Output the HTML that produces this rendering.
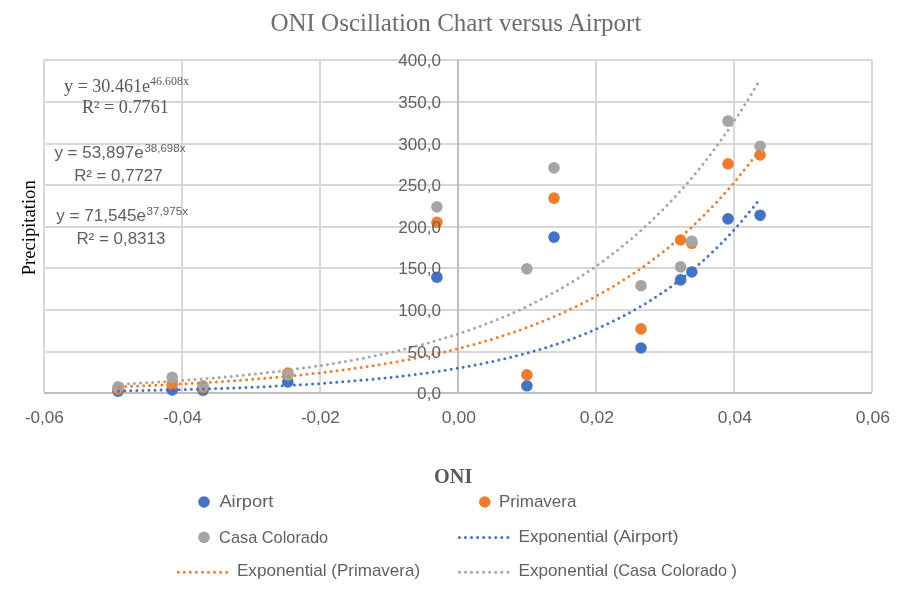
<!DOCTYPE html>
<html lang="en">
<head>
<meta charset="utf-8">
<title>ONI Oscillation Chart versus Airport</title>
<style>
html,body{margin:0;padding:0;background:#fff;}
body{width:901px;height:595px;overflow:hidden;}
svg{display:block;}
.serif{font-family:"Liberation Serif",serif;}
.sans{font-family:"Liberation Sans",sans-serif;}
.sans,.sans text{fill:#606060;}
text{fill:#595959;}
</style>
</head>
<body>
<svg width="901" height="595" viewBox="0 0 901 595">
<rect x="0" y="0" width="901" height="595" fill="#ffffff"/>
<g stroke="#d8d8d8" stroke-width="2" fill="none">
<line x1="44" y1="60" x2="872" y2="60"/>
<line x1="44" y1="102" x2="872" y2="102"/>
<line x1="44" y1="144" x2="872" y2="144"/>
<line x1="44" y1="185" x2="872" y2="185"/>
<line x1="44" y1="227" x2="872" y2="227"/>
<line x1="44" y1="268" x2="872" y2="268"/>
<line x1="44" y1="310" x2="872" y2="310"/>
<line x1="44" y1="352" x2="872" y2="352"/>
<line x1="44" y1="60" x2="44" y2="392.5"/>
<line x1="182" y1="60" x2="182" y2="392.5"/>
<line x1="320" y1="60" x2="320" y2="392.5"/>
<line x1="596" y1="60" x2="596" y2="392.5"/>
<line x1="734" y1="60" x2="734" y2="392.5"/>
<line x1="872" y1="60" x2="872" y2="392.5"/>
</g>
<g stroke="#bebebe" stroke-width="2" fill="none">
<line x1="44" y1="393" x2="872" y2="393"/>
<line x1="458" y1="60.0" x2="458" y2="393.0"/>
</g>
<g fill="#4472c4">
<circle cx="118.0" cy="391.2" r="5.8"/>
<circle cx="172.2" cy="389.9" r="5.8"/>
<circle cx="203.0" cy="390.2" r="5.8"/>
<circle cx="287.8" cy="382.0" r="5.8"/>
<circle cx="436.9" cy="277.2" r="5.8"/>
<circle cx="526.9" cy="385.8" r="5.8"/>
<circle cx="554.0" cy="237.1" r="5.8"/>
<circle cx="641.0" cy="348.0" r="5.8"/>
<circle cx="680.6" cy="279.9" r="5.8"/>
<circle cx="691.8" cy="272.0" r="5.8"/>
<circle cx="728.0" cy="218.9" r="5.8"/>
<circle cx="760.1" cy="215.2" r="5.8"/>
</g>
<g fill="#ed7d31">
<circle cx="118.0" cy="389.2" r="5.8"/>
<circle cx="172.2" cy="384.4" r="5.8"/>
<circle cx="203.0" cy="387.6" r="5.8"/>
<circle cx="287.8" cy="373.0" r="5.8"/>
<circle cx="436.9" cy="222.3" r="5.8"/>
<circle cx="526.9" cy="374.9" r="5.8"/>
<circle cx="554.0" cy="198.1" r="5.8"/>
<circle cx="641.0" cy="328.9" r="5.8"/>
<circle cx="680.6" cy="240.0" r="5.8"/>
<circle cx="691.8" cy="243.3" r="5.8"/>
<circle cx="728.0" cy="163.8" r="5.8"/>
<circle cx="760.1" cy="155.0" r="5.8"/>
</g>
<g fill="#a5a5a5">
<circle cx="118.0" cy="386.9" r="5.8"/>
<circle cx="172.2" cy="377.3" r="5.8"/>
<circle cx="203.0" cy="385.8" r="5.8"/>
<circle cx="287.8" cy="374.9" r="5.8"/>
<circle cx="436.9" cy="206.9" r="5.8"/>
<circle cx="526.9" cy="268.9" r="5.8"/>
<circle cx="554.0" cy="167.9" r="5.8"/>
<circle cx="641.0" cy="285.7" r="5.8"/>
<circle cx="680.6" cy="266.9" r="5.8"/>
<circle cx="691.8" cy="241.2" r="5.8"/>
<circle cx="728.0" cy="121.1" r="5.8"/>
<circle cx="760.1" cy="146.2" r="5.8"/>
</g>
<path d="M757.0 201.9L755.4 203.9L753.8 206.0L752.2 208.0L750.6 210.0L749.0 211.9L747.4 213.9L745.8 215.8L744.2 217.7L742.6 219.6L741.0 221.4L739.4 223.3L737.8 225.1L736.2 226.9L734.6 228.7L733.0 230.5L731.4 232.2L729.8 233.9L728.2 235.6L726.6 237.3L725.0 239.0L723.5 240.6L721.9 242.3L720.3 243.9L718.7 245.5L717.1 247.1L715.5 248.6L713.9 250.2L712.3 251.7L710.7 253.2L709.1 254.7L707.5 256.2L705.9 257.7L704.3 259.2L702.7 260.6L701.1 262.0L699.5 263.4L697.9 264.8L696.3 266.2L694.7 267.5L693.1 268.9L691.5 270.2L689.9 271.5L688.3 272.8L686.7 274.1L685.1 275.4L683.5 276.7L681.9 277.9L680.3 279.2L678.7 280.4L677.1 281.6L675.5 282.8L673.9 284.0L672.3 285.1L670.7 286.3L669.1 287.4L667.5 288.6L665.9 289.7L664.3 290.8L662.7 291.9L661.1 293.0L659.6 294.1L658.0 295.1L656.4 296.2L654.8 297.2L653.2 298.2L651.6 299.3L650.0 300.3L648.4 301.3L646.8 302.2L645.2 303.2L643.6 304.2L642.0 305.1L640.4 306.1L638.8 307.0L637.2 307.9L635.6 308.8L634.0 309.7L632.4 310.6L630.8 311.5L629.2 312.4L627.6 313.3L626.0 314.1L624.4 315.0L622.8 315.8L621.2 316.6L619.6 317.4L618.0 318.3L616.4 319.1L614.8 319.9L613.2 320.6L611.6 321.4L610.0 322.2L608.4 322.9L606.8 323.7L605.2 324.4L603.6 325.2L602.0 325.9L600.4 326.6L598.8 327.3L597.2 328.0L595.7 328.7L594.1 329.4L592.5 330.1L590.9 330.8L589.3 331.5L587.7 332.1L586.1 332.8L584.5 333.4L582.9 334.1L581.3 334.7L579.7 335.3L578.1 335.9L576.5 336.5L574.9 337.2L573.3 337.8L571.7 338.3L570.1 338.9L568.5 339.5L566.9 340.1L565.3 340.7L563.7 341.2L562.1 341.8L560.5 342.3L558.9 342.9L557.3 343.4L555.7 343.9L554.1 344.5L552.5 345.0L550.9 345.5L549.3 346.0L547.7 346.5L546.1 347.0L544.5 347.5L542.9 348.0L541.3 348.5L539.7 349.0L538.1 349.4L536.5 349.9L534.9 350.4L533.4 350.8L531.8 351.3L530.2 351.7L528.6 352.2L527.0 352.6L525.4 353.0L523.8 353.5L522.2 353.9L520.6 354.3L519.0 354.7L517.4 355.1L515.8 355.5L514.2 355.9L512.6 356.3L511.0 356.7L509.4 357.1L507.8 357.5L506.2 357.9L504.6 358.3L503.0 358.6L501.4 359.0L499.8 359.4L498.2 359.7L496.6 360.1L495.0 360.4L493.4 360.8L491.8 361.1L490.2 361.5L488.6 361.8L487.0 362.1L485.4 362.5L483.8 362.8L482.2 363.1L480.6 363.5L479.0 363.8L477.4 364.1L475.8 364.4L474.2 364.7L472.6 365.0L471.0 365.3L469.4 365.6L467.9 365.9L466.3 366.2L464.7 366.5L463.1 366.8L461.5 367.0L459.9 367.3L458.3 367.6L456.7 367.9L455.1 368.1L453.5 368.4L451.9 368.7L450.3 368.9L448.7 369.2L447.1 369.4L445.5 369.7L443.9 369.9L442.3 370.2L440.7 370.4L439.1 370.7L437.5 370.9L435.9 371.2L434.3 371.4L432.7 371.6L431.1 371.9L429.5 372.1L427.9 372.3L426.3 372.5L424.7 372.7L423.1 373.0L421.5 373.2L419.9 373.4L418.3 373.6L416.7 373.8L415.1 374.0L413.5 374.2L411.9 374.4L410.3 374.6L408.7 374.8L407.1 375.0L405.6 375.2L404.0 375.4L402.4 375.6L400.8 375.8L399.2 376.0L397.6 376.1L396.0 376.3L394.4 376.5L392.8 376.7L391.2 376.9L389.6 377.0L388.0 377.2L386.4 377.4L384.8 377.5L383.2 377.7L381.6 377.9L380.0 378.0L378.4 378.2L376.8 378.3L375.2 378.5L373.6 378.7L372.0 378.8L370.4 379.0L368.8 379.1L367.2 379.3L365.6 379.4L364.0 379.6L362.4 379.7L360.8 379.8L359.2 380.0L357.6 380.1L356.0 380.3L354.4 380.4L352.8 380.5L351.2 380.7L349.6 380.8L348.0 380.9L346.4 381.1L344.8 381.2L343.2 381.3L341.6 381.4L340.1 381.6L338.5 381.7L336.9 381.8L335.3 381.9L333.7 382.1L332.1 382.2L330.5 382.3L328.9 382.4L327.3 382.5L325.7 382.6L324.1 382.7L322.5 382.8L320.9 383.0L319.3 383.1L317.7 383.2L316.1 383.3L314.5 383.4L312.9 383.5L311.3 383.6L309.7 383.7L308.1 383.8L306.5 383.9L304.9 384.0L303.3 384.1L301.7 384.2L300.1 384.3L298.5 384.4L296.9 384.5L295.3 384.5L293.7 384.6L292.1 384.7L290.5 384.8L288.9 384.9L287.3 385.0L285.7 385.1L284.1 385.2L282.5 385.2L280.9 385.3L279.3 385.4L277.8 385.5L276.2 385.6L274.6 385.7L273.0 385.7L271.4 385.8L269.8 385.9L268.2 386.0L266.6 386.0L265.0 386.1L263.4 386.2L261.8 386.3L260.2 386.3L258.6 386.4L257.0 386.5L255.4 386.5L253.8 386.6L252.2 386.7L250.6 386.8L249.0 386.8L247.4 386.9L245.8 387.0L244.2 387.0L242.6 387.1L241.0 387.1L239.4 387.2L237.8 387.3L236.2 387.3L234.6 387.4L233.0 387.5L231.4 387.5L229.8 387.6L228.2 387.6L226.6 387.7L225.0 387.7L223.4 387.8L221.8 387.9L220.2 387.9L218.6 388.0L217.0 388.0L215.4 388.1L213.9 388.1L212.3 388.2L210.7 388.2L209.1 388.3L207.5 388.3L205.9 388.4L204.3 388.4L202.7 388.5L201.1 388.5L199.5 388.6L197.9 388.6L196.3 388.7L194.7 388.7L193.1 388.8L191.5 388.8L189.9 388.9L188.3 388.9L186.7 388.9L185.1 389.0L183.5 389.0L181.9 389.1L180.3 389.1L178.7 389.2L177.1 389.2L175.5 389.2L173.9 389.3L172.3 389.3L170.7 389.4L169.1 389.4L167.5 389.4L165.9 389.5L164.3 389.5L162.7 389.5L161.1 389.6L159.5 389.6L157.9 389.7L156.3 389.7L154.7 389.7L153.1 389.8L151.5 389.8L150.0 389.8L148.4 389.9L146.8 389.9L145.2 389.9L143.6 390.0L142.0 390.0L140.4 390.0L138.8 390.1L137.2 390.1L135.6 390.1L134.0 390.2L132.4 390.2L130.8 390.2L129.2 390.2L127.6 390.3L126.0 390.3L124.4 390.3L122.8 390.4L121.2 390.4L119.6 390.4L118.0 390.4" fill="none" stroke="#4472c4" stroke-width="3" stroke-linecap="round" stroke-dasharray="0 6.066" transform="translate(0 0.5)"/>
<path d="M759.0 150.3L757.4 152.5L755.8 154.6L754.2 156.7L752.6 158.9L751.0 161.0L749.4 163.0L747.8 165.1L746.2 167.1L744.6 169.1L743.0 171.1L741.4 173.1L739.8 175.1L738.2 177.1L736.6 179.0L735.0 180.9L733.4 182.8L731.8 184.7L730.2 186.5L728.6 188.4L727.0 190.2L725.3 192.0L723.7 193.8L722.1 195.6L720.5 197.4L718.9 199.1L717.3 200.9L715.7 202.6L714.1 204.3L712.5 206.0L710.9 207.6L709.3 209.3L707.7 210.9L706.1 212.6L704.5 214.2L702.9 215.8L701.3 217.4L699.7 218.9L698.1 220.5L696.5 222.0L694.9 223.6L693.3 225.1L691.7 226.6L690.1 228.1L688.5 229.6L686.9 231.0L685.3 232.5L683.7 233.9L682.1 235.3L680.5 236.7L678.9 238.1L677.3 239.5L675.7 240.9L674.1 242.3L672.5 243.6L670.9 244.9L669.3 246.3L667.7 247.6L666.1 248.9L664.5 250.2L662.9 251.5L661.2 252.7L659.6 254.0L658.0 255.2L656.4 256.5L654.8 257.7L653.2 258.9L651.6 260.1L650.0 261.3L648.4 262.5L646.8 263.6L645.2 264.8L643.6 265.9L642.0 267.1L640.4 268.2L638.8 269.3L637.2 270.4L635.6 271.5L634.0 272.6L632.4 273.7L630.8 274.7L629.2 275.8L627.6 276.8L626.0 277.9L624.4 278.9L622.8 279.9L621.2 280.9L619.6 282.0L618.0 282.9L616.4 283.9L614.8 284.9L613.2 285.9L611.6 286.8L610.0 287.8L608.4 288.7L606.8 289.7L605.2 290.6L603.6 291.5L602.0 292.4L600.4 293.3L598.8 294.2L597.1 295.1L595.5 296.0L593.9 296.8L592.3 297.7L590.7 298.5L589.1 299.4L587.5 300.2L585.9 301.1L584.3 301.9L582.7 302.7L581.1 303.5L579.5 304.3L577.9 305.1L576.3 305.9L574.7 306.7L573.1 307.4L571.5 308.2L569.9 309.0L568.3 309.7L566.7 310.5L565.1 311.2L563.5 311.9L561.9 312.6L560.3 313.4L558.7 314.1L557.1 314.8L555.5 315.5L553.9 316.2L552.3 316.9L550.7 317.5L549.1 318.2L547.5 318.9L545.9 319.6L544.3 320.2L542.7 320.9L541.1 321.5L539.5 322.1L537.9 322.8L536.3 323.4L534.6 324.0L533.0 324.6L531.4 325.3L529.8 325.9L528.2 326.5L526.6 327.1L525.0 327.7L523.4 328.2L521.8 328.8L520.2 329.4L518.6 330.0L517.0 330.5L515.4 331.1L513.8 331.6L512.2 332.2L510.6 332.7L509.0 333.3L507.4 333.8L505.8 334.3L504.2 334.9L502.6 335.4L501.0 335.9L499.4 336.4L497.8 336.9L496.2 337.4L494.6 337.9L493.0 338.4L491.4 338.9L489.8 339.4L488.2 339.9L486.6 340.3L485.0 340.8L483.4 341.3L481.8 341.7L480.2 342.2L478.6 342.6L477.0 343.1L475.4 343.5L473.8 344.0L472.2 344.4L470.6 344.9L468.9 345.3L467.3 345.7L465.7 346.1L464.1 346.6L462.5 347.0L460.9 347.4L459.3 347.8L457.7 348.2L456.1 348.6L454.5 349.0L452.9 349.4L451.3 349.8L449.7 350.2L448.1 350.6L446.5 350.9L444.9 351.3L443.3 351.7L441.7 352.0L440.1 352.4L438.5 352.8L436.9 353.1L435.3 353.5L433.7 353.8L432.1 354.2L430.5 354.5L428.9 354.9L427.3 355.2L425.7 355.6L424.1 355.9L422.5 356.2L420.9 356.6L419.3 356.9L417.7 357.2L416.1 357.5L414.5 357.9L412.9 358.2L411.3 358.5L409.7 358.8L408.1 359.1L406.4 359.4L404.8 359.7L403.2 360.0L401.6 360.3L400.0 360.6L398.4 360.9L396.8 361.2L395.2 361.4L393.6 361.7L392.0 362.0L390.4 362.3L388.8 362.6L387.2 362.8L385.6 363.1L384.0 363.4L382.4 363.6L380.8 363.9L379.2 364.2L377.6 364.4L376.0 364.7L374.4 364.9L372.8 365.2L371.2 365.4L369.6 365.7L368.0 365.9L366.4 366.2L364.8 366.4L363.2 366.6L361.6 366.9L360.0 367.1L358.4 367.3L356.8 367.6L355.2 367.8L353.6 368.0L352.0 368.2L350.4 368.5L348.8 368.7L347.2 368.9L345.6 369.1L344.0 369.3L342.4 369.5L340.7 369.8L339.1 370.0L337.5 370.2L335.9 370.4L334.3 370.6L332.7 370.8L331.1 371.0L329.5 371.2L327.9 371.4L326.3 371.6L324.7 371.8L323.1 371.9L321.5 372.1L319.9 372.3L318.3 372.5L316.7 372.7L315.1 372.9L313.5 373.0L311.9 373.2L310.3 373.4L308.7 373.6L307.1 373.8L305.5 373.9L303.9 374.1L302.3 374.3L300.7 374.4L299.1 374.6L297.5 374.8L295.9 374.9L294.3 375.1L292.7 375.2L291.1 375.4L289.5 375.6L287.9 375.7L286.3 375.9L284.7 376.0L283.1 376.2L281.5 376.3L279.9 376.5L278.2 376.6L276.6 376.8L275.0 376.9L273.4 377.1L271.8 377.2L270.2 377.3L268.6 377.5L267.0 377.6L265.4 377.8L263.8 377.9L262.2 378.0L260.6 378.2L259.0 378.3L257.4 378.4L255.8 378.6L254.2 378.7L252.6 378.8L251.0 378.9L249.4 379.1L247.8 379.2L246.2 379.3L244.6 379.4L243.0 379.6L241.4 379.7L239.8 379.8L238.2 379.9L236.6 380.0L235.0 380.2L233.4 380.3L231.8 380.4L230.2 380.5L228.6 380.6L227.0 380.7L225.4 380.8L223.8 380.9L222.2 381.0L220.6 381.2L219.0 381.3L217.4 381.4L215.8 381.5L214.1 381.6L212.5 381.7L210.9 381.8L209.3 381.9L207.7 382.0L206.1 382.1L204.5 382.2L202.9 382.3L201.3 382.4L199.7 382.5L198.1 382.6L196.5 382.6L194.9 382.7L193.3 382.8L191.7 382.9L190.1 383.0L188.5 383.1L186.9 383.2L185.3 383.3L183.7 383.4L182.1 383.5L180.5 383.5L178.9 383.6L177.3 383.7L175.7 383.8L174.1 383.9L172.5 384.0L170.9 384.0L169.3 384.1L167.7 384.2L166.1 384.3L164.5 384.4L162.9 384.4L161.3 384.5L159.7 384.6L158.1 384.7L156.5 384.7L154.9 384.8L153.3 384.9L151.7 385.0L150.0 385.0L148.4 385.1L146.8 385.2L145.2 385.2L143.6 385.3L142.0 385.4L140.4 385.4L138.8 385.5L137.2 385.6L135.6 385.6L134.0 385.7L132.4 385.8L130.8 385.8L129.2 385.9L127.6 386.0L126.0 386.0L124.4 386.1L122.8 386.2L121.2 386.2L119.6 386.3L118.0 386.3" fill="none" stroke="#ed7d31" stroke-width="3" stroke-linecap="round" stroke-dasharray="0 6.066" transform="translate(0 0.5)"/>
<path d="M757.4 83.6L755.8 86.3L754.2 88.9L752.6 91.6L751.0 94.3L749.4 96.9L747.8 99.5L746.2 102.0L744.6 104.6L743.0 107.1L741.4 109.6L739.8 112.1L738.2 114.6L736.6 117.0L735.0 119.4L733.4 121.8L731.8 124.2L730.2 126.5L728.6 128.9L727.0 131.2L725.4 133.5L723.8 135.8L722.2 138.0L720.6 140.2L719.0 142.5L717.4 144.6L715.8 146.8L714.2 149.0L712.6 151.1L711.0 153.2L709.4 155.3L707.8 157.4L706.2 159.5L704.6 161.5L703.1 163.6L701.5 165.6L699.9 167.6L698.3 169.5L696.7 171.5L695.1 173.4L693.5 175.4L691.9 177.3L690.3 179.1L688.7 181.0L687.1 182.9L685.5 184.7L683.9 186.5L682.3 188.3L680.7 190.1L679.1 191.9L677.5 193.7L675.9 195.4L674.3 197.2L672.7 198.9L671.1 200.6L669.5 202.3L667.9 203.9L666.3 205.6L664.7 207.2L663.1 208.9L661.5 210.5L659.9 212.1L658.3 213.6L656.7 215.2L655.1 216.8L653.5 218.3L651.9 219.9L650.3 221.4L648.7 222.9L647.1 224.4L645.5 225.8L643.9 227.3L642.3 228.8L640.7 230.2L639.1 231.6L637.5 233.0L635.9 234.4L634.3 235.8L632.7 237.2L631.1 238.6L629.5 239.9L627.9 241.3L626.3 242.6L624.7 243.9L623.1 245.2L621.5 246.5L619.9 247.8L618.3 249.1L616.7 250.3L615.1 251.6L613.5 252.8L611.9 254.0L610.3 255.3L608.7 256.5L607.1 257.7L605.5 258.8L603.9 260.0L602.3 261.2L600.7 262.3L599.1 263.5L597.5 264.6L596.0 265.7L594.4 266.9L592.8 268.0L591.2 269.1L589.6 270.1L588.0 271.2L586.4 272.3L584.8 273.3L583.2 274.4L581.6 275.4L580.0 276.5L578.4 277.5L576.8 278.5L575.2 279.5L573.6 280.5L572.0 281.5L570.4 282.4L568.8 283.4L567.2 284.4L565.6 285.3L564.0 286.3L562.4 287.2L560.8 288.1L559.2 289.1L557.6 290.0L556.0 290.9L554.4 291.8L552.8 292.6L551.2 293.5L549.6 294.4L548.0 295.3L546.4 296.1L544.8 297.0L543.2 297.8L541.6 298.6L540.0 299.5L538.4 300.3L536.8 301.1L535.2 301.9L533.6 302.7L532.0 303.5L530.4 304.3L528.8 305.1L527.2 305.8L525.6 306.6L524.0 307.3L522.4 308.1L520.8 308.8L519.2 309.6L517.6 310.3L516.0 311.0L514.4 311.7L512.8 312.5L511.2 313.2L509.6 313.9L508.0 314.6L506.4 315.2L504.8 315.9L503.2 316.6L501.6 317.3L500.0 317.9L498.4 318.6L496.8 319.2L495.2 319.9L493.6 320.5L492.0 321.2L490.5 321.8L488.9 322.4L487.3 323.0L485.7 323.6L484.1 324.3L482.5 324.9L480.9 325.5L479.3 326.0L477.7 326.6L476.1 327.2L474.5 327.8L472.9 328.4L471.3 328.9L469.7 329.5L468.1 330.0L466.5 330.6L464.9 331.1L463.3 331.7L461.7 332.2L460.1 332.8L458.5 333.3L456.9 333.8L455.3 334.3L453.7 334.8L452.1 335.3L450.5 335.9L448.9 336.4L447.3 336.8L445.7 337.3L444.1 337.8L442.5 338.3L440.9 338.8L439.3 339.3L437.7 339.7L436.1 340.2L434.5 340.7L432.9 341.1L431.3 341.6L429.7 342.0L428.1 342.5L426.5 342.9L424.9 343.4L423.3 343.8L421.7 344.2L420.1 344.6L418.5 345.1L416.9 345.5L415.3 345.9L413.7 346.3L412.1 346.7L410.5 347.1L408.9 347.5L407.3 347.9L405.7 348.3L404.1 348.7L402.5 349.1L400.9 349.5L399.3 349.9L397.7 350.3L396.1 350.6L394.5 351.0L392.9 351.4L391.3 351.7L389.7 352.1L388.1 352.4L386.5 352.8L384.9 353.2L383.4 353.5L381.8 353.9L380.2 354.2L378.6 354.5L377.0 354.9L375.4 355.2L373.8 355.5L372.2 355.9L370.6 356.2L369.0 356.5L367.4 356.8L365.8 357.1L364.2 357.5L362.6 357.8L361.0 358.1L359.4 358.4L357.8 358.7L356.2 359.0L354.6 359.3L353.0 359.6L351.4 359.9L349.8 360.2L348.2 360.5L346.6 360.7L345.0 361.0L343.4 361.3L341.8 361.6L340.2 361.9L338.6 362.1L337.0 362.4L335.4 362.7L333.8 362.9L332.2 363.2L330.6 363.5L329.0 363.7L327.4 364.0L325.8 364.2L324.2 364.5L322.6 364.7L321.0 365.0L319.4 365.2L317.8 365.5L316.2 365.7L314.6 365.9L313.0 366.2L311.4 366.4L309.8 366.6L308.2 366.9L306.6 367.1L305.0 367.3L303.4 367.6L301.8 367.8L300.2 368.0L298.6 368.2L297.0 368.4L295.4 368.7L293.8 368.9L292.2 369.1L290.6 369.3L289.0 369.5L287.4 369.7L285.8 369.9L284.2 370.1L282.6 370.3L281.0 370.5L279.4 370.7L277.8 370.9L276.3 371.1L274.7 371.3L273.1 371.5L271.5 371.7L269.9 371.9L268.3 372.0L266.7 372.2L265.1 372.4L263.5 372.6L261.9 372.8L260.3 372.9L258.7 373.1L257.1 373.3L255.5 373.5L253.9 373.6L252.3 373.8L250.7 374.0L249.1 374.1L247.5 374.3L245.9 374.5L244.3 374.6L242.7 374.8L241.1 374.9L239.5 375.1L237.9 375.3L236.3 375.4L234.7 375.6L233.1 375.7L231.5 375.9L229.9 376.0L228.3 376.2L226.7 376.3L225.1 376.5L223.5 376.6L221.9 376.8L220.3 376.9L218.7 377.0L217.1 377.2L215.5 377.3L213.9 377.5L212.3 377.6L210.7 377.7L209.1 377.9L207.5 378.0L205.9 378.1L204.3 378.3L202.7 378.4L201.1 378.5L199.5 378.6L197.9 378.8L196.3 378.9L194.7 379.0L193.1 379.1L191.5 379.3L189.9 379.4L188.3 379.5L186.7 379.6L185.1 379.7L183.5 379.8L181.9 380.0L180.3 380.1L178.7 380.2L177.1 380.3L175.5 380.4L173.9 380.5L172.3 380.6L170.8 380.7L169.2 380.9L167.6 381.0L166.0 381.1L164.4 381.2L162.8 381.3L161.2 381.4L159.6 381.5L158.0 381.6L156.4 381.7L154.8 381.8L153.2 381.9L151.6 382.0L150.0 382.1L148.4 382.2L146.8 382.3L145.2 382.4L143.6 382.4L142.0 382.5L140.4 382.6L138.8 382.7L137.2 382.8L135.6 382.9L134.0 383.0L132.4 383.1L130.8 383.2L129.2 383.2L127.6 383.3L126.0 383.4L124.4 383.5L122.8 383.6L121.2 383.7L119.6 383.8L118.0 383.8" fill="none" stroke="#a5a5a5" stroke-width="3" stroke-linecap="round" stroke-dasharray="0 6.066" transform="translate(0 0.5)"/>
<g class="sans" font-size="16.4" text-anchor="end">
<text x="441" y="66.30" textLength="42.8" lengthAdjust="spacingAndGlyphs">400,0</text>
<text x="441" y="107.92" textLength="42.8" lengthAdjust="spacingAndGlyphs">350,0</text>
<text x="441" y="149.55" textLength="42.8" lengthAdjust="spacingAndGlyphs">300,0</text>
<text x="441" y="191.18" textLength="42.8" lengthAdjust="spacingAndGlyphs">250,0</text>
<text x="441" y="232.80" textLength="42.8" lengthAdjust="spacingAndGlyphs">200,0</text>
<text x="441" y="274.43" textLength="42.8" lengthAdjust="spacingAndGlyphs">150,0</text>
<text x="441" y="316.05" textLength="42.8" lengthAdjust="spacingAndGlyphs">100,0</text>
<text x="441" y="357.68" textLength="33.5" lengthAdjust="spacingAndGlyphs">50,0</text>
<text x="441" y="399.30" textLength="23.9" lengthAdjust="spacingAndGlyphs">0,0</text>
</g>
<g class="sans" font-size="16.4" text-anchor="middle">
<text x="44.40" y="423.0" textLength="39.0" lengthAdjust="spacingAndGlyphs">-0,06</text>
<text x="182.40" y="423.0" textLength="39.0" lengthAdjust="spacingAndGlyphs">-0,04</text>
<text x="320.40" y="423.0" textLength="39.0" lengthAdjust="spacingAndGlyphs">-0,02</text>
<text x="458.90" y="423.0" textLength="34.2" lengthAdjust="spacingAndGlyphs">0,00</text>
<text x="596.90" y="423.0" textLength="34.2" lengthAdjust="spacingAndGlyphs">0,02</text>
<text x="734.90" y="423.0" textLength="34.2" lengthAdjust="spacingAndGlyphs">0,04</text>
<text x="872.90" y="423.0" textLength="34.2" lengthAdjust="spacingAndGlyphs">0,06</text>
</g>
<text class="serif" x="455.9" y="31.2" font-size="25" style="fill:#6c6c6c" text-anchor="middle" textLength="371" lengthAdjust="spacingAndGlyphs">ONI Oscillation Chart versus Airport</text>
<text class="serif" transform="translate(35 227.8) rotate(-90)" font-size="18.67" text-anchor="middle" style="fill:#000000" textLength="95" lengthAdjust="spacingAndGlyphs">Precipitation</text>
<text class="serif" x="453.2" y="482.8" font-size="20.5" font-weight="bold" text-anchor="middle" textLength="38.2" lengthAdjust="spacingAndGlyphs">ONI</text>
<text class="serif" x="64" y="91.5" font-size="18.4" textLength="125" lengthAdjust="spacingAndGlyphs">y = 30.461e<tspan font-size="12.2" dy="-6.8">46.608x</tspan></text>
<text class="serif" x="82" y="112.8" font-size="18.4" textLength="86.8" lengthAdjust="spacingAndGlyphs">R² = 0.7761</text>
<text class="sans" y="158" font-size="16.4"><tspan x="54.4" textLength="89.4" lengthAdjust="spacingAndGlyphs">y = 53,897e</tspan><tspan x="144.4" dy="-5.6" font-size="10.6" textLength="41" lengthAdjust="spacingAndGlyphs">38,698x</tspan></text>
<text class="sans" x="74.2" y="180.7" font-size="16.4" textLength="88.4" lengthAdjust="spacingAndGlyphs">R² = 0,7727</text>
<text class="sans" y="220.6" font-size="16.4"><tspan x="56.2" textLength="89.8" lengthAdjust="spacingAndGlyphs">y = 71,545e</tspan><tspan x="146.6" dy="-5.6" font-size="10.6" textLength="41.4" lengthAdjust="spacingAndGlyphs">37,975x</tspan></text>
<text class="sans" x="76.4" y="243.6" font-size="16.4" textLength="89" lengthAdjust="spacingAndGlyphs">R² = 0,8313</text>
<circle cx="204" cy="502" r="5.8" fill="#4472c4"/>
<circle cx="484.8" cy="502" r="5.8" fill="#ed7d31"/>
<circle cx="204" cy="537.3" r="5.8" fill="#a5a5a5"/>
<path d="M459.4 537.5H507.9" fill="none" stroke="#4472c4" stroke-width="3" stroke-linecap="round" stroke-dasharray="0 6.06"/>
<path d="M178.2 572.3H226.7" fill="none" stroke="#ed7d31" stroke-width="3" stroke-linecap="round" stroke-dasharray="0 6.06"/>
<path d="M459.4 572.3H507.9" fill="none" stroke="#a5a5a5" stroke-width="3" stroke-linecap="round" stroke-dasharray="0 6.06"/>
<g class="sans" font-size="16.4">
<text x="219.4" y="507.2" textLength="54" lengthAdjust="spacingAndGlyphs">Airport</text>
<text x="499.0" y="507.2" textLength="77.4" lengthAdjust="spacingAndGlyphs">Primavera</text>
<text y="542.7"><tspan x="219.1" textLength="109.0" lengthAdjust="spacingAndGlyphs">Casa Colorado</tspan></text>
<text y="542.0"><tspan x="518.5" textLength="89.7" lengthAdjust="spacingAndGlyphs">Exponential</tspan> <tspan x="612.9" textLength="65.7" lengthAdjust="spacingAndGlyphs">(Airport)</tspan></text>
<text y="575.8"><tspan x="236.9" textLength="89.7" lengthAdjust="spacingAndGlyphs">Exponential</tspan> <tspan x="331.3" textLength="88.8" lengthAdjust="spacingAndGlyphs">(Primavera)</tspan></text>
<text y="575.8"><tspan x="518.5" textLength="89.7" lengthAdjust="spacingAndGlyphs">Exponential</tspan> <tspan x="612.9" textLength="114.2" lengthAdjust="spacingAndGlyphs">(Casa Colorado</tspan> <tspan x="731.2" textLength="5.7" lengthAdjust="spacingAndGlyphs">)</tspan></text>
</g>
</svg>
</body>
</html>
